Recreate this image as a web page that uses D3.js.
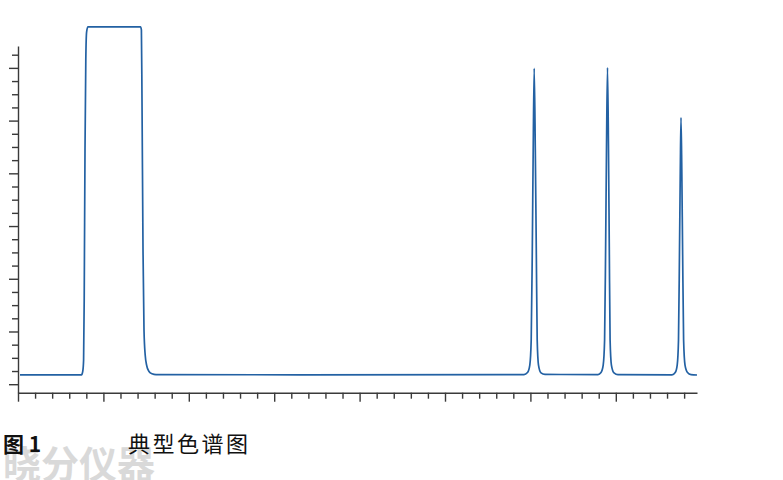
<!DOCTYPE html>
<html>
<head>
<meta charset="utf-8">
<script src="https://cdn.jsdelivr.net/npm/d3@7"></script>
<style>
  html, body { margin: 0; padding: 0; background: #fff; }
  svg { display: block; }
</style>
</head>
<body>
<svg id="chart" width="783" height="480"></svg>
<script>
// Retention time (min) of each trace point
const times = [
  0.117, 3.718, 3.794, 3.841, 3.876, 3.923, 3.970, 4.016, 4.098,
  7.172, 7.225, 7.260, 7.319, 7.377, 7.447, 7.541, 7.670, 7.845, 8.080,
  16.51, 29.625,
  29.83, 29.965, 30.047, 30.111, 30.164, 30.222, 30.287, 30.345, 30.398, 30.474, 30.621, 30.855,
  33.958,
  34.133, 34.262, 34.344, 34.403, 34.455, 34.514, 34.573, 34.620, 34.666, 34.743, 34.895, 35.129,
  38.290,
  38.478, 38.595, 38.671, 38.730, 38.776, 38.817, 38.864, 38.911, 38.970, 39.052, 39.198, 39.403, 39.754
];
// Detector signal (mV) at each of those times
const signal = [
  17.8, 17.8, 25.0, 45.9, 159.7, 444.2, 615.0, 668.0, 677.9,
  677.9, 671.9, 539.1, 254.6, 102.8, 55.4, 34.5, 24.1, 19.7, 18.2,
  17.8, 18.2,
  22.2, 36.4, 83.8, 254.6, 444.2, 599.2, 444.2, 254.6, 83.8, 36.4, 21.6, 18.6,
  18.2,
  22.2, 36.4, 83.8, 254.6, 444.2, 600.7, 444.2, 254.6, 83.8, 36.4, 21.6, 18.2,
  17.8,
  22.2, 36.4, 83.8, 254.6, 406.3, 505.9, 406.3, 254.6, 83.8, 36.4, 22.2, 18.2, 17.5
];
const xTicks = d3.range(0, 40, 1);        // minor every 1 min, major every 5
const yTicks = d3.range(0, 626, 25);      // minor every 25, major every 100
const captionLabel = "图 1";
const captionTitle = "典型色谱图";
const watermark = "晓分仪器";

const svg = d3.select("#chart");

const x = d3.scaleLinear().domain([0, 39.754]).range([18, 697]);
const y = d3.scaleLinear().domain([-16.1, 641.5]).range([392.7, 46]);

// watermark (behind everything)
svg.append("text")
  .attr("x", 3).attr("y", 478)
  .attr("font-family", "'Noto Sans CJK SC', sans-serif")
  .attr("font-weight", "bold")
  .attr("font-size", 38)
  .attr("fill", "#d9d9d9")
  .text(watermark);

// axes
const axisColor = "#3a3a3a";
const yAxis = svg.append("g")
  .attr("transform", `translate(${x(0)},0)`)
  .call(d3.axisLeft(y).tickValues(yTicks).tickFormat("").tickSizeOuter(0).tickSizeInner(6));
yAxis.selectAll(".tick line")
  .attr("x2", d => (d % 100 === 0 ? -9 : -6));

const xAxis = svg.append("g")
  .attr("transform", `translate(0,${y(-16.1)})`)
  .call(d3.axisBottom(x).tickValues(xTicks).tickFormat("").tickSizeOuter(0).tickSizeInner(6));
xAxis.selectAll(".tick line")
  .attr("y2", d => (d % 5 === 0 ? 9 : 6));

svg.selectAll(".domain, .tick line")
  .attr("stroke", axisColor)
  .attr("stroke-width", 1.4);

// chromatogram trace
const data = times.map((t, i) => ({ t, v: signal[i] }));
svg.append("path")
  .datum(data)
  .attr("fill", "none")
  .attr("stroke", "#2361a3")
  .attr("stroke-width", 1.7)
  .attr("stroke-linejoin", "round")
  .attr("d", d3.line().x(d => x(d.t)).y(d => y(d.v)).curve(d3.curveMonotoneX));

// caption
svg.append("text")
  .attr("x", 3).attr("y", 452)
  .attr("font-family", "'Noto Sans CJK SC', sans-serif")
  .attr("font-weight", "bold")
  .attr("font-size", 21)
  .attr("fill", "#111")
  .text(captionLabel);

svg.append("text")
  .attr("x", 128).attr("y", 452)
  .attr("font-family", "'Noto Sans CJK SC', sans-serif")
  .attr("font-size", 22)
  .attr("letter-spacing", 2.5)
  .attr("fill", "#111")
  .text(captionTitle);
</script>
</body>
</html>
